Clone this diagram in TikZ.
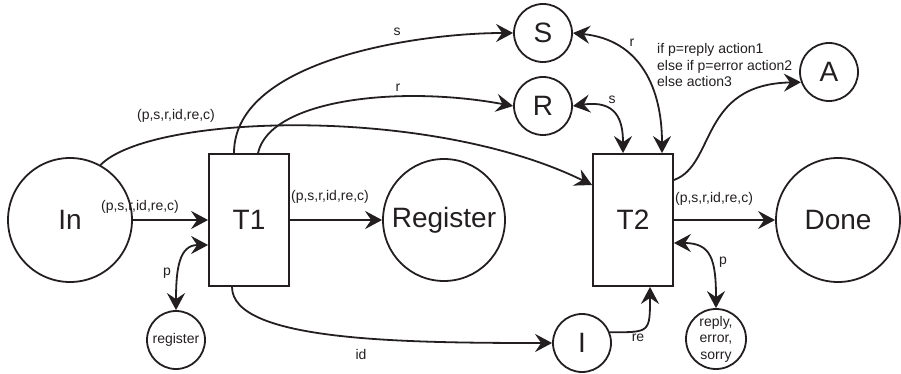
\documentclass[tikz,border=0pt]{standalone}
\usepackage{fontspec}
\setmainfont{Liberation Sans}
\usetikzlibrary{arrows.meta}
\definecolor{ink}{HTML}{231F20}
\begin{document}
\begin{tikzpicture}[x=1pt,y=-1pt,
  every node/.style={text=ink},
  bigfont/.style={font=\fontsize{28}{33}\selectfont},
  smallfont/.style={font=\fontsize{14}{16.5}\selectfont},
  bigplace/.style={circle,draw=ink,line width=1.8pt,inner sep=0pt,minimum size=#1,bigfont},
  smallplace/.style={circle,draw=ink,line width=1.8pt,inner sep=0pt,minimum size=58pt,bigfont},
  transbox/.style={rectangle,draw=ink,line width=1.8pt,inner sep=0pt,minimum width=80pt,minimum height=132pt,bigfont},
  lbl/.style={smallfont,inner sep=0pt},
  arc/.style={draw=ink,line width=1.8pt,-{Stealth[length=17pt,width=18pt,inset=6pt]}},
  biarc/.style={draw=ink,line width=1.8pt,{Stealth[length=17pt,width=18pt,inset=6pt]}-{Stealth[length=17pt,width=18pt,inset=6pt]}}
]
\useasboundingbox (0,0) rectangle (901,374);

% places and transitions
\node[bigplace=124pt] (In) at (70,220) {In};
\node[transbox] (T1) at (249,220) {T1};
\node[bigplace=122pt] (Reg) at (444,220) {Register};
\node[transbox] (T2) at (633,220) {T2};
\node[bigplace=124pt] (Done) at (838,220) {Done};
\node[smallplace] (S) at (543,33) {S};
\node[smallplace] (R) at (543,106) {R};
\node[smallplace] (A) at (829,72) {A};
\node[smallplace] (I) at (582,343) {I};
\node[circle,draw=ink,line width=1.8pt,inner sep=0pt,minimum size=58pt,smallfont] (reg) at (176,340) {register};
\node[circle,draw=ink,line width=1.8pt,inner sep=0pt,minimum size=60pt] (rep) at (716,339) {};
\node[lbl,align=center] (reptext) at (716,339) {reply,\\error,\\sorry};

% connectors
\draw[arc] (In) -- (T1);
\draw[arc] (T1) -- (Reg);
\draw[arc] (T2) -- (Done);
\draw[arc] (In.61) .. controls +(50,-51) and +(-163,-80) .. ([yshift=35pt]T2.west);
\draw[arc] ([xshift=-15pt]T1.north) .. controls +(0,-94) and +(-93,0) .. (S.west);
\draw[arc] ([xshift=9pt]T1.north) .. controls +(12,-54) and +(-113,-21) .. (R.west);
\draw[arc] ([xshift=-17pt]T1.south) .. controls +(0,54) and +(-152,0) .. (I.west);
\draw[biarc] ([yshift=-25pt]T1.west) .. controls +(-29,0) and +(0,-41) .. (reg.north);
\draw[biarc] (S.east) .. controls +(68,7) and +(0,-64) .. ([xshift=29pt]T2.north);
\draw[biarc] (R.east) .. controls +(43,-6) and +(0,-34) .. ([xshift=-10pt]T2.north);
\draw[arc] ([yshift=40pt]T2.east) .. controls +(42,-15) and +(-102,2) .. (A.200);
\draw[biarc] ([yshift=-23pt]T2.east) .. controls +(37,0) and +(0,-49) .. (rep.north);
\draw[arc] (I.21) .. controls +(40,0) and +(0,46) .. ([xshift=17pt]T2.south);

% labels
\node[lbl] (l1) at (140,207) {(p,s,r,id,re,c)};
\node[lbl] (l2) at (176,116) {(p,s,r,id,re,c)};
\node[lbl] (l3) at (330,197) {(p,s,r,id,re,c)};
\node[lbl] (l4) at (714,199) {(p,s,r,id,re,c)};
\node[lbl] (ls) at (397,32) {s};
\node[lbl] (lr) at (398,88) {r};
\node[lbl] (lid) at (361,354) {id};
\node[lbl] (lp1) at (167,273) {p};
\node[lbl] (lr2) at (632,43) {r};
\node[lbl] (ls2) at (612,100) {s};
\node[lbl] (lp2) at (723,262) {p};
\node[lbl] (lre) at (638,338) {re};
\node[lbl,align=left,anchor=west] (cond) at (657,65) {if p=reply action1\\else if p=error action2\\else action3};
\end{tikzpicture}
\end{document}
